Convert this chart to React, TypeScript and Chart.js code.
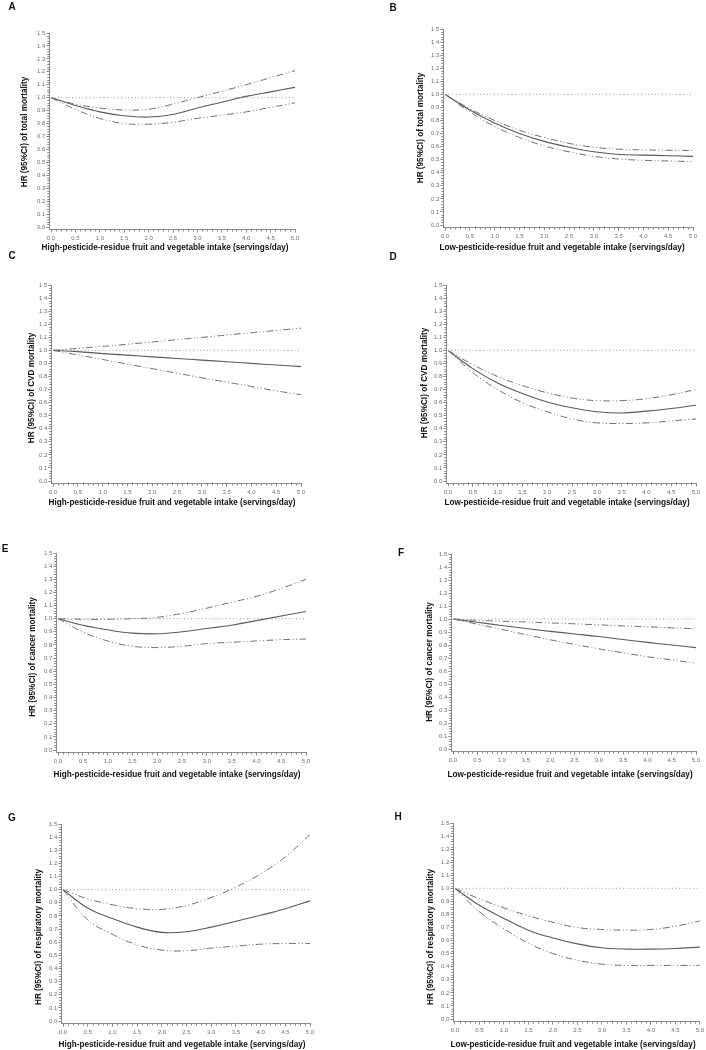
import React, { useEffect, useRef } from 'react';
import { Chart, registerables } from 'chart.js';
Chart.register(...registerables);

// ---------- data ----------
const xValues = [0, 0.5, 1, 1.5, 2, 2.5, 3, 3.5, 4, 4.5, 5];
const xTickValues = [0, 0.5, 1, 1.5, 2, 2.5, 3, 3.5, 4, 4.5, 5];
const xTickLabels = ['0.0', '0.5', '1.0', '1.5', '2.0', '2.5', '3.0', '3.5', '4.0', '4.5', '5.0'];
const yTickValues = [0, 0.1, 0.2, 0.3, 0.4, 0.5, 0.6, 0.7, 0.8, 0.9, 1.0, 1.1, 1.2, 1.3, 1.4, 1.5];
const yTickLabels = ['0.0', '0.1', '0.2', '0.3', '0.4', '0.5', '0.6', '0.7', '0.8', '0.9', '1.0', '1.1', '1.2', '1.3', '1.4', '1.5'];
const refX = [0, 5];
const refY = [1, 1];

const highTitle = 'High-pesticide-residue fruit and vegetable intake (servings/day)';
const lowTitle = 'Low-pesticide-residue fruit and vegetable intake (servings/day)';
const panelLetters = ['A', 'B', 'C', 'D', 'E', 'F', 'G', 'H'];
const yTitles = [
  'HR (95%CI) of total mortality',
  'HR (95%CI) of total mortality',
  'HR (95%CI) of CVD mortality',
  'HR (95%CI) of CVD mortality',
  'HR (95%CI) of cancer mortality',
  'HR (95%CI) of cancer mortality',
  'HR (95%CI) of respiratory mortality',
  'HR (95%CI) of respiratory mortality',
];

const aHR = [1.0, 0.94, 0.89, 0.86, 0.85, 0.87, 0.92, 0.965, 1.01, 1.045, 1.08];
const aUpper = [1.0, 0.95, 0.92, 0.905, 0.91, 0.95, 1.0, 1.05, 1.1, 1.155, 1.21];
const aLower = [1.0, 0.91, 0.84, 0.8, 0.795, 0.81, 0.84, 0.865, 0.89, 0.925, 0.96];

const bHR = [1.0, 0.88, 0.78, 0.7, 0.64, 0.595, 0.56, 0.54, 0.535, 0.53, 0.525];
const bUpper = [1.0, 0.89, 0.8, 0.725, 0.67, 0.625, 0.595, 0.58, 0.575, 0.572, 0.57];
const bLower = [1.0, 0.865, 0.755, 0.67, 0.605, 0.56, 0.525, 0.505, 0.495, 0.49, 0.485];

const cHR = [1.0, 0.99, 0.975, 0.963, 0.95, 0.938, 0.925, 0.913, 0.9, 0.888, 0.875];
const cUpper = [1.0, 1.015, 1.03, 1.047, 1.064, 1.082, 1.099, 1.117, 1.135, 1.152, 1.17];
const cLower = [1.0, 0.965, 0.93, 0.895, 0.86, 0.825, 0.79, 0.757, 0.723, 0.69, 0.66];

const dHR = [1.0, 0.86, 0.75, 0.67, 0.605, 0.56, 0.53, 0.52, 0.535, 0.555, 0.58];
const dUpper = [1.0, 0.89, 0.8, 0.73, 0.675, 0.635, 0.615, 0.615, 0.63, 0.66, 0.7];
const dLower = [1.0, 0.83, 0.7, 0.6, 0.53, 0.475, 0.445, 0.44, 0.445, 0.46, 0.475];

const eHR = [1.0, 0.95, 0.915, 0.89, 0.885, 0.9, 0.925, 0.95, 0.985, 1.02, 1.055];
const eUpper = [1.0, 0.995, 0.995, 1.0, 1.01, 1.04, 1.08, 1.125, 1.17, 1.23, 1.3];
const eLower = [1.0, 0.9, 0.83, 0.79, 0.78, 0.79, 0.81, 0.82, 0.83, 0.84, 0.845];

const fHR = [1.0, 0.975, 0.95, 0.927, 0.905, 0.885, 0.865, 0.842, 0.82, 0.8, 0.78];
const fUpper = [1.0, 0.99, 0.983, 0.977, 0.97, 0.963, 0.955, 0.947, 0.94, 0.932, 0.925];
const fLower = [1.0, 0.96, 0.92, 0.88, 0.84, 0.805, 0.77, 0.74, 0.71, 0.685, 0.66];

const gHR = [1.0, 0.86, 0.78, 0.715, 0.675, 0.68, 0.715, 0.76, 0.805, 0.855, 0.915];
const gUpper = [1.0, 0.93, 0.885, 0.855, 0.85, 0.88, 0.94, 1.02, 1.12, 1.25, 1.42];
const gLower = [1.0, 0.77, 0.66, 0.58, 0.54, 0.535, 0.555, 0.57, 0.585, 0.59, 0.59];

const hHR = [1.0, 0.87, 0.77, 0.68, 0.62, 0.575, 0.545, 0.535, 0.535, 0.54, 0.55];
const hUpper = [1.0, 0.92, 0.85, 0.79, 0.74, 0.7, 0.685, 0.68, 0.685, 0.71, 0.75];
const hLower = [1.0, 0.82, 0.69, 0.58, 0.5, 0.45, 0.42, 0.41, 0.41, 0.41, 0.41];

// ---------- layout (pixel geometry of each panel) ----------
const W = 706;
const H = 1050;
const X_MIN = -0.035;
const Y_MIN = -0.02;
const Y_AXIS_W = 22;
const X_AXIS_H = 14;

type Panel = {
  hr: number[]; upper: number[]; lower: number[];
  xTitle: string;
  x0: number; x5: number; y0: number; y15: number;
  letterPos: [number, number];
  xTitlePos: [number, number];
  yTitlePos: [number, number];
};

const panels: Panel[] = [
  { hr: aHR, upper: aUpper, lower: aLower, xTitle: highTitle, x0: 51, x5: 295, y0: 227, y15: 33, letterPos: [12, 7], xTitlePos: [165, 248], yTitlePos: [25, 132] },
  { hr: bHR, upper: bUpper, lower: bLower, xTitle: lowTitle, x0: 445, x5: 693, y0: 225, y15: 29, letterPos: [393, 8], xTitlePos: [562, 248], yTitlePos: [421, 128] },
  { hr: cHR, upper: cUpper, lower: cLower, xTitle: highTitle, x0: 53, x5: 301, y0: 481, y15: 285, letterPos: [12, 256], xTitlePos: [172, 503], yTitlePos: [32, 388] },
  { hr: dHR, upper: dUpper, lower: dLower, xTitle: lowTitle, x0: 448, x5: 696, y0: 481, y15: 285, letterPos: [393, 257], xTitlePos: [567, 503], yTitlePos: [425, 383] },
  { hr: eHR, upper: eUpper, lower: eLower, xTitle: highTitle, x0: 58, x5: 306, y0: 750, y15: 553, letterPos: [5, 549], xTitlePos: [177, 775], yTitlePos: [33, 657] },
  { hr: fHR, upper: fUpper, lower: fLower, xTitle: lowTitle, x0: 453, x5: 696, y0: 749, y15: 554, letterPos: [401, 553], xTitlePos: [570, 775], yTitlePos: [430, 662] },
  { hr: gHR, upper: gUpper, lower: gLower, xTitle: highTitle, x0: 63, x5: 310, y0: 1021, y15: 824, letterPos: [12, 818], xTitlePos: [182, 1045], yTitlePos: [39, 937] },
  { hr: hHR, upper: hUpper, lower: hLower, xTitle: lowTitle, x0: 455, x5: 700, y0: 1019, y15: 823, letterPos: [398, 817], xTitlePos: [573, 1045], yTitlePos: [431, 937] },
];

const FONT = '"Liberation Sans", Arial, sans-serif';
const LINE_COLOR = '#5a5a5a';
const CI_COLOR = '#707070';
const AXIS_COLOR = '#8a8a8a';
const TICK_TEXT = '#6e6e6e';

const decorPlugin = {
  id: 'panelDecor',
  afterDraw(chart: any, _args: any, opts: any) {
    const ctx = chart.ctx;
    const xs = chart.scales.x;
    const ys = chart.scales.y;
    const area = chart.chartArea;
    ctx.save();
    // minor ticks
    ctx.strokeStyle = AXIS_COLOR;
    ctx.lineWidth = 1;
    ctx.beginPath();
    for (let i = 1; i < 50; i++) {
      if (i % 5 === 0) continue;
      const px = Math.round(xs.getPixelForValue(i / 10)) + 0.5;
      ctx.moveTo(px, area.bottom);
      ctx.lineTo(px, area.bottom + 2);
    }
    for (let i = 1; i < 75; i++) {
      if (i % 5 === 0) continue;
      const py = Math.round(ys.getPixelForValue(i / 50)) + 0.5;
      ctx.moveTo(area.left, py);
      ctx.lineTo(area.left - 2, py);
    }
    ctx.stroke();
    // texts
    ctx.fillStyle = '#111';
    ctx.textAlign = 'center';
    ctx.textBaseline = 'middle';
    ctx.font = `bold 10px ${FONT}`;
    ctx.fillText(opts.letter, opts.letterPos[0], opts.letterPos[1]);
    ctx.font = `bold 8.2px ${FONT}`;
    ctx.fillText(opts.xTitle, opts.xTitlePos[0], opts.xTitlePos[1]);
    ctx.translate(opts.yTitlePos[0], opts.yTitlePos[1]);
    ctx.rotate(-Math.PI / 2);
    ctx.fillText(opts.yTitle, 0, 0);
    ctx.restore();
  },
};

function PanelChart({ index }: { index: number }) {
  const ref = useRef<HTMLCanvasElement>(null);
  useEffect(() => {
    const p = panels[index];
    const pxPerX = (p.x5 - p.x0) / 5;
    const pxPerY = (p.y0 - p.y15) / 1.5;
    const chartLeft = p.x0 + X_MIN * pxPerX;
    const chartBottom = p.y0 - Y_MIN * pxPerY;
    const toPts = (ys: number[]) => xValues.map((x, i) => ({ x, y: ys[i] }));
    const ciDash = [7, 2.5, 1, 2.5, 1, 2.5];
    const chart = new Chart(ref.current!, {
      type: 'line',
      data: {
        datasets: [
          {
            data: refX.map((x, i) => ({ x, y: refY[i] })),
            borderColor: '#9a9a9a', borderWidth: 1, borderDash: [1, 2.5], pointRadius: 0, tension: 0,
          },
          {
            data: toPts(p.upper),
            borderColor: CI_COLOR, borderWidth: 1, borderDash: ciDash, pointRadius: 0, tension: 0.4,
          },
          {
            data: toPts(p.lower),
            borderColor: CI_COLOR, borderWidth: 1, borderDash: ciDash, pointRadius: 0, tension: 0.4,
          },
          {
            data: toPts(p.hr),
            borderColor: LINE_COLOR, borderWidth: 1.1, pointRadius: 0, tension: 0.4,
          },
        ],
      },
      options: {
        responsive: false,
        animation: false,
        events: [],
        layout: {
          padding: {
            left: chartLeft - Y_AXIS_W,
            right: W - p.x5,
            top: p.y15,
            bottom: H - chartBottom - X_AXIS_H,
          },
        },
        plugins: {
          legend: { display: false },
          tooltip: { enabled: false },
          panelDecor: {
            letter: panelLetters[index],
            letterPos: p.letterPos,
            xTitle: p.xTitle,
            xTitlePos: p.xTitlePos,
            yTitle: yTitles[index],
            yTitlePos: p.yTitlePos,
          },
        } as any,
        scales: {
          x: {
            type: 'linear',
            min: X_MIN,
            max: 5,
            afterBuildTicks: (scale: any) => { scale.ticks = xTickValues.map((v) => ({ value: v })); },
            afterFit: (scale: any) => { scale.height = X_AXIS_H; },
            grid: { display: true, drawOnChartArea: false, drawTicks: true, tickLength: 3, color: AXIS_COLOR },
            border: { display: true, color: AXIS_COLOR, width: 1 },
            ticks: {
              autoSkip: false, maxRotation: 0, padding: 2, color: TICK_TEXT,
              font: { size: 6, family: FONT },
              callback: (_v: any, i: number) => xTickLabels[i],
            },
          },
          y: {
            type: 'linear',
            min: Y_MIN,
            max: 1.5,
            afterBuildTicks: (scale: any) => { scale.ticks = yTickValues.map((v) => ({ value: v })); },
            afterFit: (scale: any) => { scale.width = Y_AXIS_W; },
            grid: { display: true, drawOnChartArea: false, drawTicks: true, tickLength: 3, color: AXIS_COLOR },
            border: { display: true, color: AXIS_COLOR, width: 1 },
            ticks: {
              autoSkip: false, padding: 1, color: TICK_TEXT,
              font: { size: 6, family: FONT },
              callback: (_v: any, i: number) => yTickLabels[i],
            },
          },
        },
      } as any,
      plugins: [decorPlugin],
    });
    return () => chart.destroy();
  }, [index]);
  return (
    <canvas
      ref={ref}
      width={W}
      height={H}
      style={{ position: 'absolute', left: 0, top: 0, width: W, height: H }}
    />
  );
}

export default function App() {
  return (
    <div style={{ position: 'absolute', left: 0, top: 0, width: W, height: H, background: '#fff' }}>
      {panels.map((_, i) => (
        <PanelChart key={i} index={i} />
      ))}
    </div>
  );
}
